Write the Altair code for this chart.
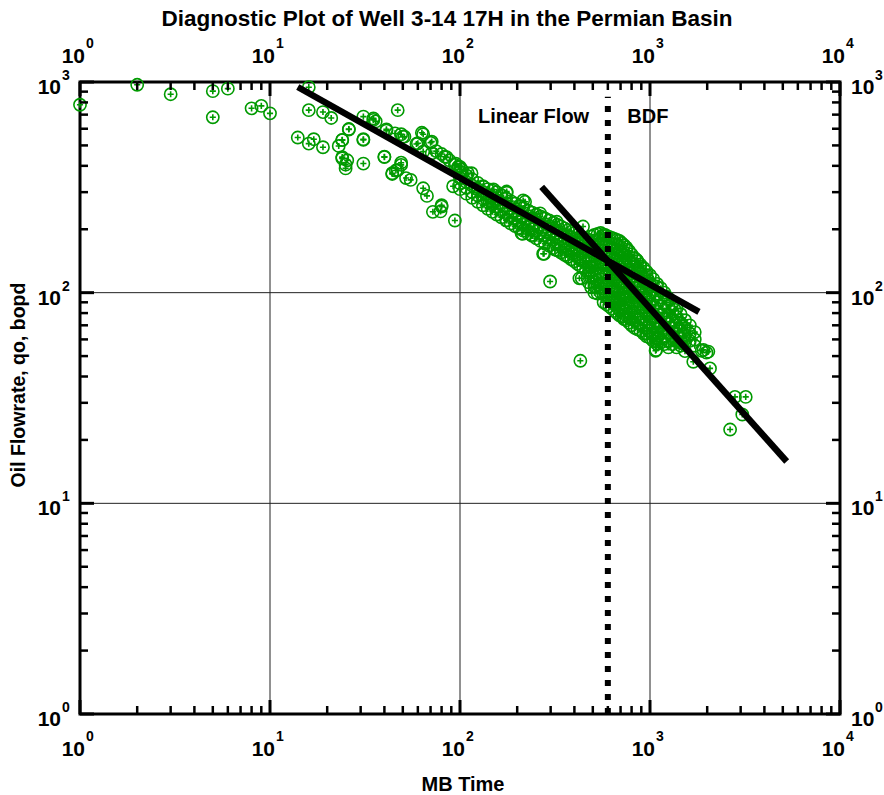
import altair as alt
import pandas as pd

# ---------------- data ----------------
# isolated / scattered points: MB time and oil rate (bopd)
sparse_t = [1, 2, 3, 5, 5, 6, 8, 9, 10,
            14, 16, 16, 19, 21, 16, 17, 19, 26, 24, 23, 24, 25, 25.5, 31, 31, 31,
            35, 36, 40, 41, 47, 44, 46, 49, 49, 51, 52, 55, 59, 63, 64, 70, 64, 67,
            72, 80, 79, 94, 83, 92, 98, 110, 120, 133, 150, 176, 149, 215, 214, 274, 316,
            35, 41, 45.5, 50, 60, 71, 71, 64, 94, 102, 115, 44, 49, 47, 25, 24, 24, 26,
            31, 40, 75, 80, 85, 88, 95, 100,
            80, 176, 220, 147, 211, 238, 277, 364, 298, 425, 264, 215, 176, 323, 387,
            428, 493, 524, 557, 568, 654, 430,
            437, 514, 580, 695, 785, 724, 960, 1084, 1077, 1100, 1438, 1497, 1470, 1910,
            2028, 2069, 1690, 628, 580, 753, 851, 960, 1084, 1225, 1354, 444, 503, 483,
            641, 817, 695, 886, 1000, 1129, 1274, 669, 886, 545,
            1528, 1871, 1983, 2800, 3190, 3060, 2640, 1470, 1070, 1077, 960, 1327]
sparse_q = [780, 970, 875, 905, 680, 930, 750, 770, 710,
            545, 945, 735, 720, 675, 510, 535, 490, 595, 530, 497, 440, 405, 425, 535, 410, 685,
            672, 650, 440, 588, 735, 366, 380, 404, 565, 550, 350, 343, 508, 574, 565, 515, 313, 288,
            242, 260, 243, 220, 442, 320, 396, 369, 313, 318, 309, 302, 267, 274, 190, 153, 160,
            661, 596, 570, 550, 512, 521, 459, 467, 404, 385, 369, 369, 414, 382, 389, 434, 531, 598,
            531, 442, 470, 455, 440, 425, 410, 395,
            256, 298, 270, 270, 191, 188, 153, 151, 113, 117, 238, 230, 221, 217, 175,
            143, 133, 115, 105, 178, 89, 47.5,
            117, 107, 101, 83, 75.6, 77, 64, 60.7, 53.5, 64, 71.6, 61.9, 57.5, 53.5,
            52.5, 43.7, 47, 138, 188, 160, 143, 121, 107, 95.7, 82.8, 206, 165, 128,
            115, 99, 92, 89, 77, 68.9, 77, 154, 133, 143,
            52.8, 53, 51.9, 32, 32, 26.4, 22.4, 70.3, 53, 58.6, 63.7, 59.6]

# dense band of points: MB time and the oil rates read at that time
band_t = [100, 108, 116, 124, 132, 140, 148, 156, 165, 175, 185, 195, 205, 215, 228,
          240, 252, 265, 280, 295, 310, 325, 340, 355, 370, 385, 400, 415, 430, 445,
          460, 475,
          490, 510, 530, 550, 570, 590, 610, 630, 650, 670, 690, 710, 730, 750, 775,
          800, 830, 860, 890, 925, 960, 1000, 1040, 1090, 1140, 1190, 1250, 1310,
          1380, 1450, 1530, 1620, 1720]
band_q = [
    [375, 350, 330, 310], [360, 335, 315, 295], [345, 322, 300, 282],
    [332, 310, 290, 270], [320, 300, 280, 260], [310, 290, 270, 250],
    [305, 282, 262, 242], [300, 275, 255, 235], [290, 266, 246, 228],
    [280, 258, 238, 220], [272, 250, 230, 213], [265, 243, 224, 207],
    [258, 237, 218, 202], [252, 231, 212, 197], [246, 225, 206, 191],
    [240, 220, 200, 186], [235, 215, 196, 181], [230, 210, 191, 176],
    [225, 205, 186, 171], [220, 200, 182, 167], [215, 196, 178, 163],
    [210, 192, 174, 159], [206, 188, 170, 155], [202, 184, 166, 151],
    [198, 180, 162, 148], [195, 176, 158, 144], [192, 173, 155, 141],
    [188, 170, 152, 137], [185, 166, 148, 134], [182, 162, 145, 131],
    [180, 159, 142, 127], [178, 156, 139, 124, 112],
    [185, 165, 148, 132, 118, 106],
    [188, 168, 150, 134, 120, 107, 100],
    [190, 170, 152, 136, 122, 109, 99],
    [192, 172, 154, 138, 124, 111, 100],
    [188, 170, 152, 137, 123, 110, 98, 90],
    [186, 168, 150, 135, 121, 108, 96, 88],
    [184, 166, 149, 134, 120, 107, 95, 86],
    [182, 164, 147, 132, 118, 105, 93, 84],
    [180, 162, 145, 130, 116, 103, 91, 82],
    [178, 160, 143, 128, 114, 101, 90, 80],
    [176, 158, 141, 126, 112, 99, 88, 78],
    [172, 155, 138, 123, 110, 97, 86, 77],
    [168, 151, 135, 120, 107, 95, 84, 75],
    [164, 147, 132, 117, 105, 93, 82, 74],
    [158, 142, 127, 113, 101, 90, 80, 72],
    [152, 137, 123, 110, 98, 87, 78, 70],
    [146, 132, 119, 106, 95, 85, 76, 68],
    [141, 127, 114, 102, 92, 82, 74, 67],
    [136, 122, 110, 99, 89, 80, 72, 66],
    [131, 118, 106, 95, 86, 77, 70, 64],
    [126, 113, 102, 92, 83, 75, 68, 62],
    [121, 109, 98, 88, 80, 72, 66, 61],
    [116, 104, 94, 85, 77, 70, 64, 59],
    [110, 99, 90, 81, 74, 67, 61, 57],
    [105, 95, 86, 78, 71, 64, 58],
    [100, 90, 82, 75, 68, 62, 57],
    [94, 86, 78, 71, 65, 59, 55],
    [89, 81, 74, 68, 62, 57],
    [84, 77, 70, 64, 59, 55],
    [79, 72, 66, 61, 56],
    [74, 68, 63, 58],
    [70, 64, 59],
    [65, 60, 56],
]

# fitted straight lines (half slope and unit slope)
fit_linear_t = [14, 1810]
fit_linear_q = [947, 81]
fit_bdf_t = [269, 5240]
fit_bdf_q = [318, 15.8]
bdf_start_t = 600
bdf_line_q = [1, 850]

# axis ticks and labels
x_major = [1, 10, 100, 1000, 10000]
y_major = [1, 10, 100, 1000]
minor_mult = [2, 3, 4, 5, 6, 7, 8, 9]
x_exp = ["0", "1", "2", "3", "4"]
y_exp = ["0", "1", "2", "3"]

annot_text = ["Linear Flow", "BDF"]
annot_t = [244, 975]
annot_q = [638, 638]

TITLE = "Diagnostic Plot of Well 3-14 17H in the Permian Basin"
X_TITLE = "MB Time"
Y_TITLE = "Oil Flowrate, qo, bopd"

# ---------------- build tables ----------------
rows = [{"t": t, "q": q} for t, q in zip(sparse_t, sparse_q)]
for t, qs in zip(band_t, band_q):
    rows += [{"t": t, "q": q} for q in qs]
pts = pd.DataFrame(rows)

fits = pd.DataFrame(
    [{"seg": "linear", "t": t, "q": q} for t, q in zip(fit_linear_t, fit_linear_q)]
    + [{"seg": "bdf", "t": t, "q": q} for t, q in zip(fit_bdf_t, fit_bdf_q)]
)
vline = pd.DataFrame({"t": [bdf_start_t] * 2, "q": bdf_line_q})

x_minor = [m * d for d in x_major[:-1] for m in minor_mult]
y_minor = [m * d for d in y_major[:-1] for m in minor_mult]

W, H = 760, 632
GREEN = "#009a00"
FONT = "Liberation Sans"

xs = alt.Scale(type="log", domain=[1, 10000], nice=False)
ys = alt.Scale(type="log", domain=[1, 1000], nice=False)
X = lambda f="t": alt.X(f + ":Q", scale=xs, axis=None)
Y = lambda f="q": alt.Y(f + ":Q", scale=ys, axis=None)

layers = []

# grid lines at decades
layers.append(alt.Chart(pd.DataFrame({"t": x_major[1:-1]})).mark_rule(
    color="#222", strokeWidth=1).encode(x=X(), y=alt.value(0), y2=alt.value(H)))
layers.append(alt.Chart(pd.DataFrame({"q": y_major[1:-1]})).mark_rule(
    color="#222", strokeWidth=1).encode(y=Y(), x=alt.value(0), x2=alt.value(W)))

# data markers: circle with a plus
layers.append(alt.Chart(pts).mark_point(
    shape="circle", filled=False, size=150, strokeWidth=1.6, color=GREEN, opacity=1
).encode(x=X(), y=Y()))
layers.append(alt.Chart(pts).mark_point(
    shape="M-0.5,0L0.5,0M0,-0.5L0,0.5", filled=False, size=150, strokeWidth=1.6,
    color=GREEN, opacity=1
).encode(x=X(), y=Y()))

# fitted lines
layers.append(alt.Chart(fits).mark_line(color="black", strokeWidth=6.5, strokeCap="butt").encode(
    x=X(), y=Y(), detail="seg:N"))
# boundary dominated flow start
layers.append(alt.Chart(vline).mark_line(color="black", strokeWidth=6, strokeDash=[6, 8],
                                         strokeCap="butt").encode(x=X(), y=Y()))

# inward ticks on all four sides
def xticks(vals, length, w):
    d = pd.DataFrame({"t": vals})
    bot = alt.Chart(d).mark_rule(color="black", strokeWidth=w).encode(
        x=X(), y=alt.value(H), y2=alt.value(H - length))
    top = alt.Chart(d).mark_rule(color="black", strokeWidth=w).encode(
        x=X(), y=alt.value(0), y2=alt.value(length))
    return [bot, top]

def yticks(vals, length, w):
    d = pd.DataFrame({"q": vals})
    left = alt.Chart(d).mark_rule(color="black", strokeWidth=w).encode(
        y=Y(), x=alt.value(0), x2=alt.value(length))
    right = alt.Chart(d).mark_rule(color="black", strokeWidth=w).encode(
        y=Y(), x=alt.value(W), x2=alt.value(W - length))
    return [left, right]

layers += xticks(x_minor, 8, 2.5) + xticks(x_major, 14, 3)
layers += yticks(y_minor, 8, 2.5) + yticks(y_major, 14, 3)

# tick labels 10^n
xl = pd.DataFrame({"t": x_major, "base": ["10"] * len(x_major), "exp": x_exp})
yl = pd.DataFrame({"q": y_major, "base": ["10"] * len(y_major), "exp": y_exp})
LB = dict(font=FONT, fontWeight="bold", fontSize=21, color="black")
LE = dict(font=FONT, fontWeight="bold", fontSize=14, color="black")
for ypos_b, ypos_e in [(H + 42, H + 27), (-19, -34)]:
    layers.append(alt.Chart(xl).mark_text(align="right", dx=5, baseline="alphabetic", **LB).encode(
        x=X(), y=alt.value(ypos_b), text="base:N"))
    layers.append(alt.Chart(xl).mark_text(align="left", dx=6, baseline="alphabetic", **LE).encode(
        x=X(), y=alt.value(ypos_e), text="exp:N"))
for xpos_b, xpos_e, al in [(-19, -18, "right"), (W + 11, W + 35, "left")]:
    layers.append(alt.Chart(yl).mark_text(align=al, dy=12, baseline="alphabetic", **LB).encode(
        y=Y(), x=alt.value(xpos_b), text="base:N"))
    layers.append(alt.Chart(yl).mark_text(align="left", dy=-2, baseline="alphabetic", **LE).encode(
        y=Y(), x=alt.value(xpos_e), text="exp:N"))

# flow regime annotations
ann = pd.DataFrame({"t": annot_t, "q": annot_q, "label": annot_text})
layers.append(alt.Chart(ann).mark_text(align="center", baseline="alphabetic", font=FONT,
                                       fontWeight="bold", fontSize=20, color="black").encode(
    x=X(), y=Y(), text="label:N"))

# titles
one = pd.DataFrame({"k": [0]})
layers.append(alt.Chart(one).mark_text(text=TITLE, align="center", baseline="alphabetic",
                                       font=FONT, fontWeight="bold", fontSize=22.5, color="black").encode(
    x=alt.value(367), y=alt.value(-56)))
layers.append(alt.Chart(one).mark_text(text=X_TITLE, align="center", baseline="alphabetic",
                                       font=FONT, fontWeight="bold", fontSize=20, color="black").encode(
    x=alt.value(383), y=alt.value(709)))
layers.append(alt.Chart(one).mark_text(text=Y_TITLE, align="center", baseline="middle", angle=270,
                                       font=FONT, fontWeight="bold", fontSize=19.5, color="black").encode(
    x=alt.value(-61), y=alt.value(303)))

chart = alt.layer(*layers).properties(
    width=W, height=H,
    autosize=alt.AutoSizeParams(type="none"),
    padding={"left": 80, "top": 82, "right": 44, "bottom": 81},
    background="white",
).configure_view(stroke="black", strokeWidth=3)

chart.save("out.html", embed_options={"renderer": "svg", "actions": False})
